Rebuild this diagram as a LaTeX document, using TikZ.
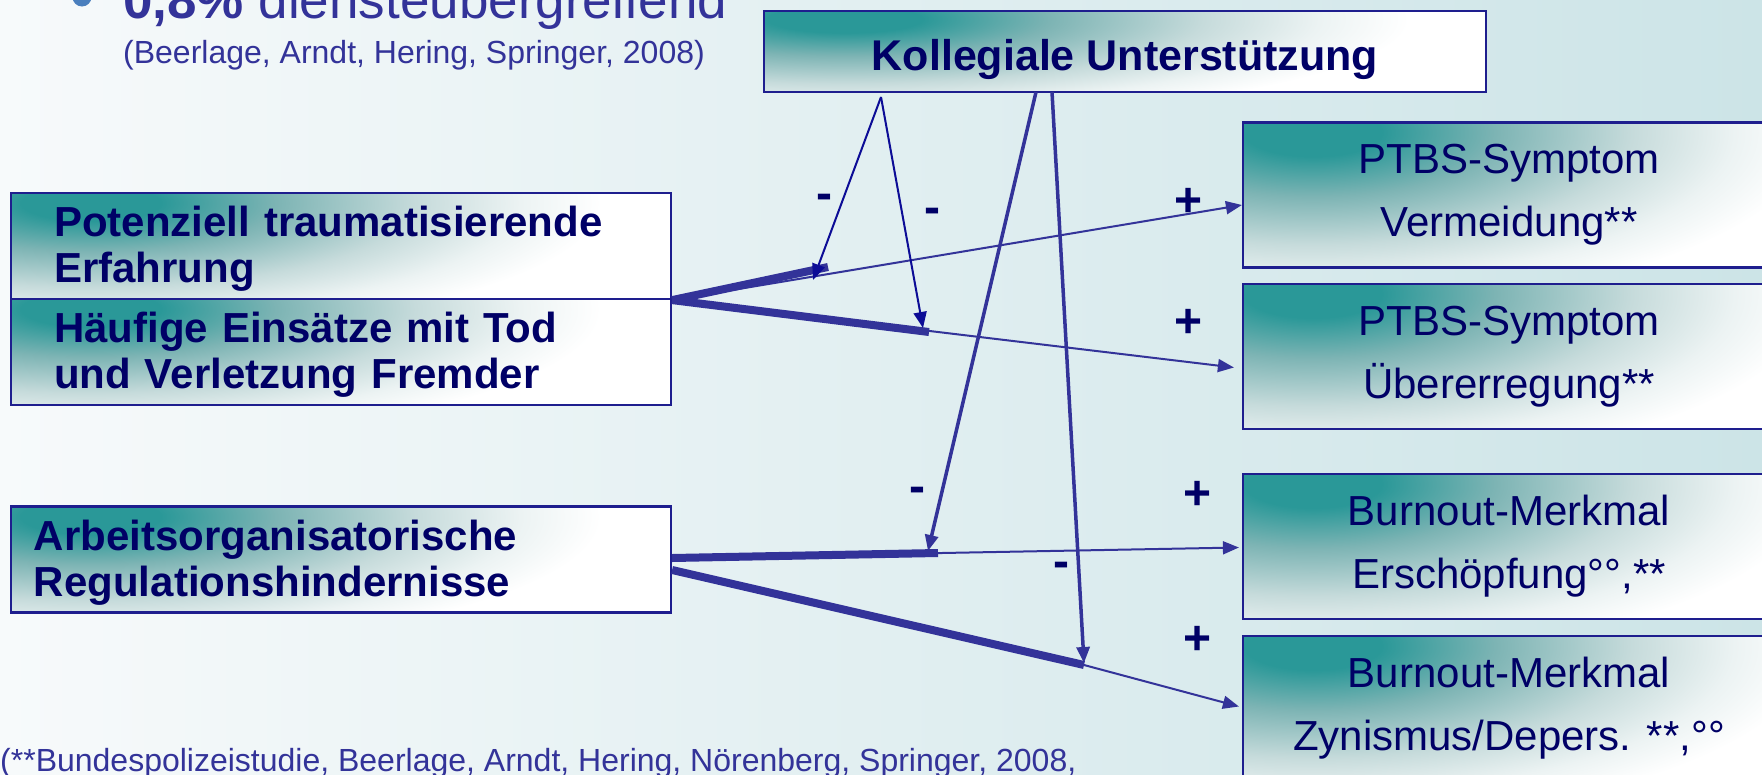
\documentclass[tikz,border=0pt]{standalone}
\usepackage{fontspec}
\setmainfont{Liberation Sans}
\usepackage{tikz}
\usetikzlibrary{arrows.meta,calc}

\definecolor{navytext}{HTML}{000066}
\definecolor{boxline}{HTML}{1E1E8E}
\definecolor{linkblue}{HTML}{333399}
\definecolor{modblue}{HTML}{0C0C96}
\definecolor{glowteal}{HTML}{2A9898}
\definecolor{glowmid}{HTML}{7DB4B4}
\definecolor{glowpale}{HTML}{C6DBDB}
\definecolor{glowfaint}{HTML}{ECF3F3}
\definecolor{bgleft}{HTML}{F7FAFB}
\definecolor{bgmid}{HTML}{E2EFF1}
\definecolor{bgright}{HTML}{CCE4E7}
\definecolor{bulletblue}{HTML}{4A7FBD}

\pgfdeclareradialshading{glowspot}{\pgfpointorigin}{color(0bp)=(glowteal); color(3bp)=(glowteal); color(8bp)=(glowmid); color(14bp)=(glowpale); color(18.5bp)=(glowfaint); color(22bp)=(white); color(50bp)=(white)}

\tikzset{
  glow/.style n args={4}{fill=white, path picture={\shade[shading=glowspot] ($(path picture bounding box.north west)+(#1,#2)$) ellipse [x radius=#3, y radius=#4];}},
  boxframe/.style={draw=boxline, line width=2.2pt, text=navytext, inner ysep=0pt},
  causebox/.style={boxframe, glow={70}{10}{570pt}{150pt}, font=\fontsize{42}{46}\selectfont\bfseries, align=left, minimum height=106pt, execute at begin node=\rule{0pt}{36pt}},
  effectbox/.style={boxframe, glow={70}{10}{570pt}{200pt}, font=\fontsize{42}{63}\selectfont, align=center, minimum width=532pt, minimum height=145pt, execute at begin node=\rule{0pt}{46pt}},
  supportbox/.style={boxframe, glow={70}{8}{630pt}{115pt}, font=\fontsize{43}{43}\selectfont\bfseries, minimum width=722pt, minimum height=81pt, execute at begin node=\rule{0pt}{48pt}},
  thickbar/.style={draw=linkblue, line width=8pt},
  effectlink/.style={draw=linkblue, line width=2pt, ->},
  modarrow/.style={draw=modblue, line width=2pt, ->},
  modlong/.style={draw=linkblue, line width=3.5pt, ->},
  signlabel/.style={font=\fontsize{48}{48}\selectfont\bfseries, text=navytext, inner sep=0pt, anchor=base},
  sourcetext/.style={font=\fontsize{32}{36}\selectfont, text=linkblue, inner sep=0pt, anchor=base west}
}

\begin{document}
\begin{tikzpicture}[x=1pt, y=-1pt, >={Triangle[length=16pt,width=13pt]}]
  \useasboundingbox (0,0) rectangle (1762,774);
  \clip (0,0) rectangle (1762,774);
  \shade[left color=bgleft, middle color=bgmid, right color=bgright] (0,0) rectangle (1762,774);

  % sources at top and bottom
  \node[circle, fill=bulletblue, minimum size=19pt, inner sep=0pt] (dot) at (82,-3) {};
  \node[font=\fontsize{53}{53}\selectfont, text=linkblue, inner sep=0pt, anchor=base west] (share) at (123,18) {\textbf{0,8\%} diensteubergreifend};
  \node[sourcetext] (src1) at (123,63) {(Beerlage, Arndt, Hering, Springer, 2008)};
  \node[sourcetext] (src2) at (0,771) {(**Bundespolizeistudie, Beerlage, Arndt, Hering, Nörenberg, Springer, 2008,};

  \node[supportbox] (support) at (1125,51.5) {Kollegiale Unterstützung};

  \node[causebox, text width=574pt, inner xsep=43pt] (trauma) at (341,246) {Potenziell traumatisierende\\Erfahrung};
  \node[causebox, text width=574pt, inner xsep=43pt] (death) at (341,352) {Häufige Einsätze mit Tod\\und Verletzung Fremder};
  \node[causebox, text width=614pt, inner xsep=23pt] (workorg) at (341,559.5) {Arbeitsorganisatorische\\Regulationshindernisse};

  \node[effectbox] (avoid) at (1509,195) {PTBS-Symptom\\Vermeidung**};
  \node[effectbox] (arousal) at (1509,356.5) {PTBS-Symptom\\Übererregung**};
  \node[effectbox] (exhaust) at (1509,546.5) {Burnout-Merkmal\\Erschöpfung°°,**};
  \node[effectbox] (cynic) at (1509,708.5) {Burnout-Merkmal\\Zynismus/Depers. **,°°};

  \coordinate (avoidIn) at ($(avoid.west)+(0,10)$);
  \coordinate (arousalIn) at ($(arousal.west)+(-8,11)$);
  \coordinate (exhaustIn) at ($(exhaust.west)+(-3,1)$);
  \coordinate (cynicIn) at ($(cynic.west)+(-3,-2)$);
  \coordinate (workTop) at ($(workorg.east)+(0,-1.5)$);
  \coordinate (workLow) at ($(workorg.east)+(0,10.5)$);
  \coordinate (barA) at (828,267);
  \coordinate (barB) at (929,332);
  \coordinate (barC) at (938,553);
  \coordinate (barD) at (1084,665);
  \coordinate (modTop) at (881,97);
  \coordinate (modC) at (1036,92);
  \coordinate (modD) at (1052,92);
  \coordinate (hitA) at (813,280);
  \coordinate (hitB) at (923,328);
  \coordinate (hitC) at (928,551);
  \coordinate (hitD) at (1084,663);

  \draw[effectlink] (trauma.south east) -- (avoidIn);
  \draw[effectlink] (trauma.south east) -- (arousalIn);
  \draw[effectlink] (workTop) -- (exhaustIn);
  \draw[effectlink] (barD) -- (cynicIn);
  \draw[thickbar] (trauma.south east) -- (barA);
  \draw[thickbar] (trauma.south east) -- (barB);
  \draw[thickbar] (workTop) -- (barC);
  \draw[thickbar] (workLow) -- (barD);

  \draw[modarrow] (modTop) -- (hitA);
  \draw[modarrow] (modTop) -- (hitB);
  \draw[modlong] (modC) -- (hitC);
  \draw[modlong] (modD) -- (hitD);

  \node[signlabel] (minusA) at (824,209) {-};
  \node[signlabel] (minusB) at (932,223) {-};
  \node[signlabel] (minusC) at (917,502) {-};
  \node[signlabel] (minusD) at (1061,577) {-};
  \node[signlabel] (plusA) at (1189,216) {+};
  \node[signlabel] (plusB) at (1189,337) {+};
  \node[signlabel] (plusC) at (1198,509) {+};
  \node[signlabel] (plusD) at (1198,654) {+};
\end{tikzpicture}
\end{document}
